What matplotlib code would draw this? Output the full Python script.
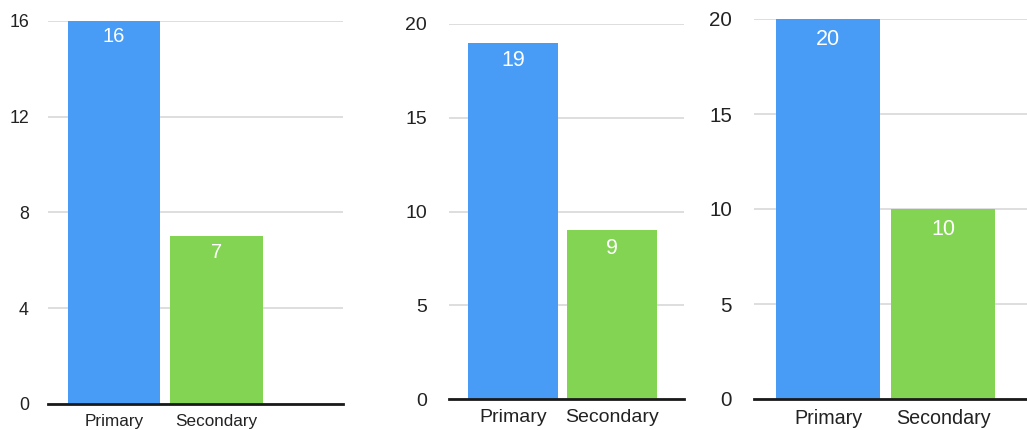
import matplotlib
matplotlib.use("Agg")
import matplotlib.pyplot as plt

categories = ["Primary", "Secondary"]
values_1 = [16, 7]
values_2 = [19, 9]
values_3 = [20, 10]
yticks_1 = [0, 4, 8, 12, 16]
yticks_2 = [0, 5, 10, 15, 20]
yticks_3 = [0, 5, 10, 15, 20]

colors = ["#489CF5", "#82D452"]
plt.rcParams['font.family'] = ['Liberation Sans', 'DejaVu Sans']

W, H = 1027, 430
fig = plt.figure(figsize=(W / 100, H / 100), dpi=100)

# (left px, right px, top px, bottom px, xlim, ylim, values, ticks, bar width,
#  tick fs, cat fs, val fs, tick pad pt, value offset pt)
panels = [
    (48, 343, 21, 404, (-0.644, 2.234), (0, 16), values_1, yticks_1, 0.9, 12.8, 12.3, 14.5, 13.7, -11.5),
    (449, 684, 24, 399, (-0.646, 1.727), (0, 20), values_2, yticks_2, 0.91, 14.0, 14.0, 15.5, 15.8, -13.0),
    (754, 1027, 19, 399, (-0.643, 1.73), (0, 20), values_3, yticks_3, 0.91, 14.8, 14.2, 15.5, 15.8, -15.0),
]

for (l, r, t, b, xl, yl, vals, yt, bw, tfs, cfs, vfs, tpad, voff) in panels:
    ax = fig.add_axes([l / W, (H - b) / H, (r - l) / W, (b - t) / H])
    x = list(range(len(categories)))
    bars = ax.bar(x, vals, width=bw, color=colors, zorder=2)
    ax.set_xlim(*xl)
    ax.set_ylim(*yl)
    ax.set_yticks(yt)
    ax.set_yticklabels([str(v) for v in yt], fontsize=tfs, color="#222222")
    ax.set_xticks(x)
    ax.set_xticklabels(categories, fontsize=cfs, color="#222222")
    ax.tick_params(axis="y", length=0, pad=tpad)
    ax.tick_params(axis="x", length=0, pad=7.5)
    for s in ["top", "right", "left"]:
        ax.spines[s].set_visible(False)
    ax.spines["bottom"].set_linewidth(2)
    ax.spines["bottom"].set_color("#1a1a1a")
    ax.spines["bottom"].set_zorder(3)
    ax.yaxis.grid(True, color="#d8d8d8", linewidth=1.2, zorder=0)
    ax.set_axisbelow(True)
    for rect, v in zip(bars, vals):
        ax.annotate(str(v), (rect.get_x() + rect.get_width() / 2, v),
                    xytext=(0, voff), textcoords="offset points",
                    ha="center", va="center", color="white", fontsize=vfs, zorder=4)

fig.savefig("out.png", dpi=100)
